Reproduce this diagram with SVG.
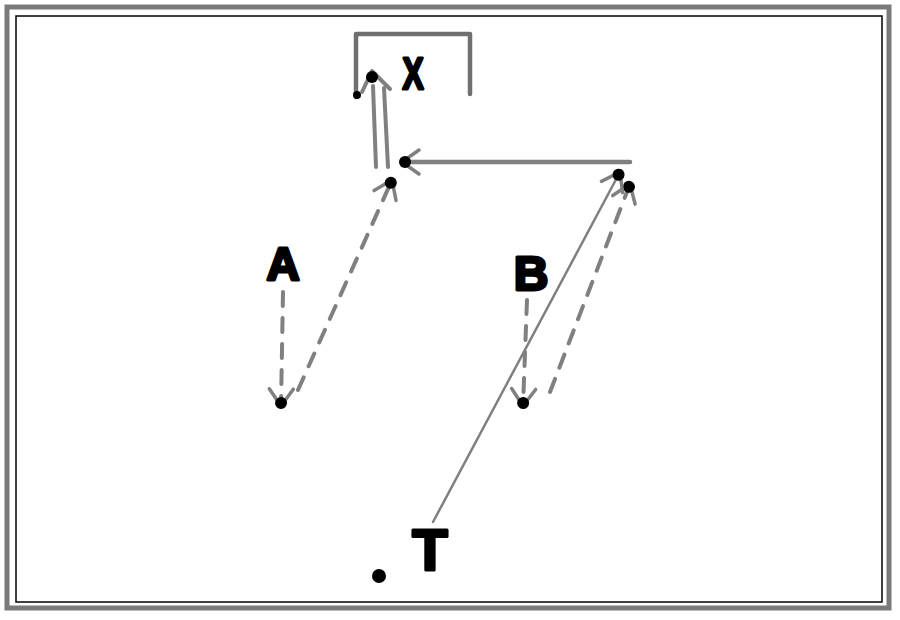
<svg xmlns="http://www.w3.org/2000/svg" width="900" height="620" viewBox="0 0 900 620">
<style>
.lbl{font-family:"Liberation Sans",Arial,sans-serif;font-weight:bold;fill:#000;stroke:#000;stroke-width:3;stroke-linejoin:round;text-anchor:middle}
.dash{fill:none;stroke:#808080;stroke-width:4;stroke-dasharray:14 12;stroke-linecap:round;marker-end:url(#ah)}
.solid{fill:none;stroke:#808080;stroke-linecap:round;marker-end:url(#ah)}
</style>
<defs>
<marker id="ah" markerUnits="userSpaceOnUse" viewBox="-24 -16 30 32" markerWidth="30" markerHeight="32" refX="0" refY="0" orient="auto">
<path d="M-17 -12 L0 0 L-17 12" fill="none" stroke="#808080" stroke-width="3.5" stroke-linecap="round" stroke-linejoin="round"/>
<circle cx="-3" cy="0" r="6" fill="#000"/>
</marker>
</defs>
<rect x="0" y="0" width="900" height="620" fill="#fff"/>
<g id="border">
<rect x="7" y="7" width="882" height="601" fill="none" stroke="#7a7a7a" stroke-width="5"/>
<rect x="16" y="16" width="866" height="586" fill="none" stroke="#000" stroke-width="1.5"/>
</g>
<g id="goal">
<path d="M356 97 L356 34 L470 34 L470 94" fill="none" stroke="#707070" stroke-width="4.5" stroke-linecap="round" stroke-linejoin="round"/>
<circle cx="357" cy="95" r="4" fill="#000"/>
<text class="lbl" x="413" y="89" font-size="44" transform="translate(413 0) scale(0.72 1) translate(-413 0)">X</text>
</g>
<g id="connectors">
<path class="dash" d="M283 292 L281 406"/>
<path class="dash" d="M298 390 L392 180"/>
<path class="dash" d="M527 300 L523 406"/>
<path class="dash" d="M550 392 L630 184"/>
<path class="solid" stroke-width="2.5" d="M433 522 L620 172"/>
<path class="solid" stroke-width="4.5" d="M630 162 L402 162"/>
<g id="double-arrow">
<path d="M376 167 L373 86" fill="none" stroke="#808080" stroke-width="4" stroke-linecap="round"/>
<path d="M388 167 L384 88" fill="none" stroke="#808080" stroke-width="4" stroke-linecap="round"/>
<path d="M362 92 L372 71 L390 89" fill="none" stroke="#808080" stroke-width="4" stroke-linecap="round" stroke-linejoin="round"/>
<circle cx="372" cy="77" r="6" fill="#000"/>
</g>
</g>
<g id="player-A"><text class="lbl" x="283" y="280" font-size="46">A</text></g>
<g id="player-B"><text class="lbl" x="531" y="290" font-size="48">B</text></g>
<g id="player-T"><text class="lbl" x="430" y="570" font-size="58">T</text></g>
<g id="ball"><circle cx="379" cy="576" r="7" fill="#000"/></g>
</svg>
